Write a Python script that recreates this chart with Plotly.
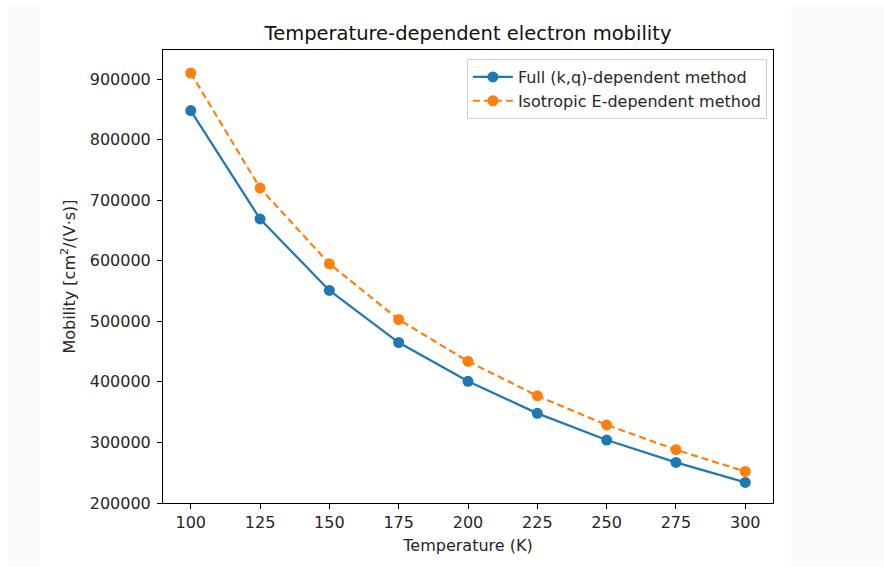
import plotly.graph_objects as go

temperature = [100, 125, 150, 175, 200, 225, 250, 275, 300]
full_kq = [848000, 669000, 551000, 465000, 401000, 348000, 304000, 267000, 234000]
isotropic_e = [910000, 720000, 595000, 503000, 434000, 377000, 329000, 288000, 252000]
x_ticks = [100, 125, 150, 175, 200, 225, 250, 275, 300]
y_ticks = [200000, 300000, 400000, 500000, 600000, 700000, 800000, 900000]

FONT = "DejaVu Sans"
BLUE = "#1f77b4"
ORANGE = "#ff7f0e"

fig = go.Figure()
fig.add_trace(go.Scatter(
    x=temperature, y=full_kq, mode="lines+markers",
    name="Full (k,q)-dependent method",
    line=dict(color=BLUE, width=2.2),
    marker=dict(color=BLUE, size=11),
))
fig.add_trace(go.Scatter(
    x=temperature, y=isotropic_e, mode="lines+markers",
    name="Isotropic E-dependent method",
    line=dict(color=ORANGE, width=2.2, dash="7px,4px"),
    marker=dict(color=ORANGE, size=11),
))

L, R, T, B = 163, 773, 50, 503
W, H = 884, 567
pw, ph = R - L, B - T

def px(x):
    return (x - L) / pw

def py(y):
    return (B - y) / ph

shapes = [
    dict(type="rect", xref="paper", yref="paper", x0=px(8), x1=px(40), y0=py(566), y1=py(7),
         fillcolor="#fafafa", line=dict(width=0), layer="below"),
    dict(type="rect", xref="paper", yref="paper", x0=px(791), x1=px(884), y0=py(566), y1=py(7),
         fillcolor="#fafafa", line=dict(width=0), layer="below"),
]

fig.update_layout(
    width=W, height=H,
    margin=dict(l=L, r=W - R, t=T, b=H - B),
    paper_bgcolor="white", plot_bgcolor="white",
    font=dict(family=FONT, size=16, color="#262626"),
    title=dict(text="Temperature-dependent electron mobility", x=(L + R) / 2 / W, xanchor="center",
               y=1 - 33 / H, yanchor="middle", font=dict(size=19.5, color="#111111")),
    shapes=shapes,
    showlegend=True,
    legend=dict(x=0.99, y=0.98, xanchor="right", yanchor="top",
                bordercolor="#d0d0d0", borderwidth=1, bgcolor="rgba(255,255,255,0.8)",
                font=dict(size=16, color="#262626"), tracegroupgap=0, itemwidth=40),
    xaxis=dict(range=[90, 310], tickvals=x_ticks, ticktext=[str(v) for v in x_ticks],
               showgrid=False, zeroline=False, showline=True, mirror=True, linecolor="black",
               linewidth=1, ticks="outside", ticklen=5, tickcolor="black",
               title=dict(text="Temperature (K)", standoff=8, font=dict(size=16))),
    yaxis=dict(range=[200000, 948000], tickvals=y_ticks, ticktext=[str(v) for v in y_ticks],
               showgrid=False, zeroline=False, showline=True, mirror=True, linecolor="black",
               linewidth=1, ticks="outside", ticklen=5, tickcolor="black", ticklabelstandoff=3,
               title=dict(text="Mobility [cm<sup>2</sup>/(V·s)]", standoff=10, font=dict(size=16))),
)

fig.write_html("out.html")
